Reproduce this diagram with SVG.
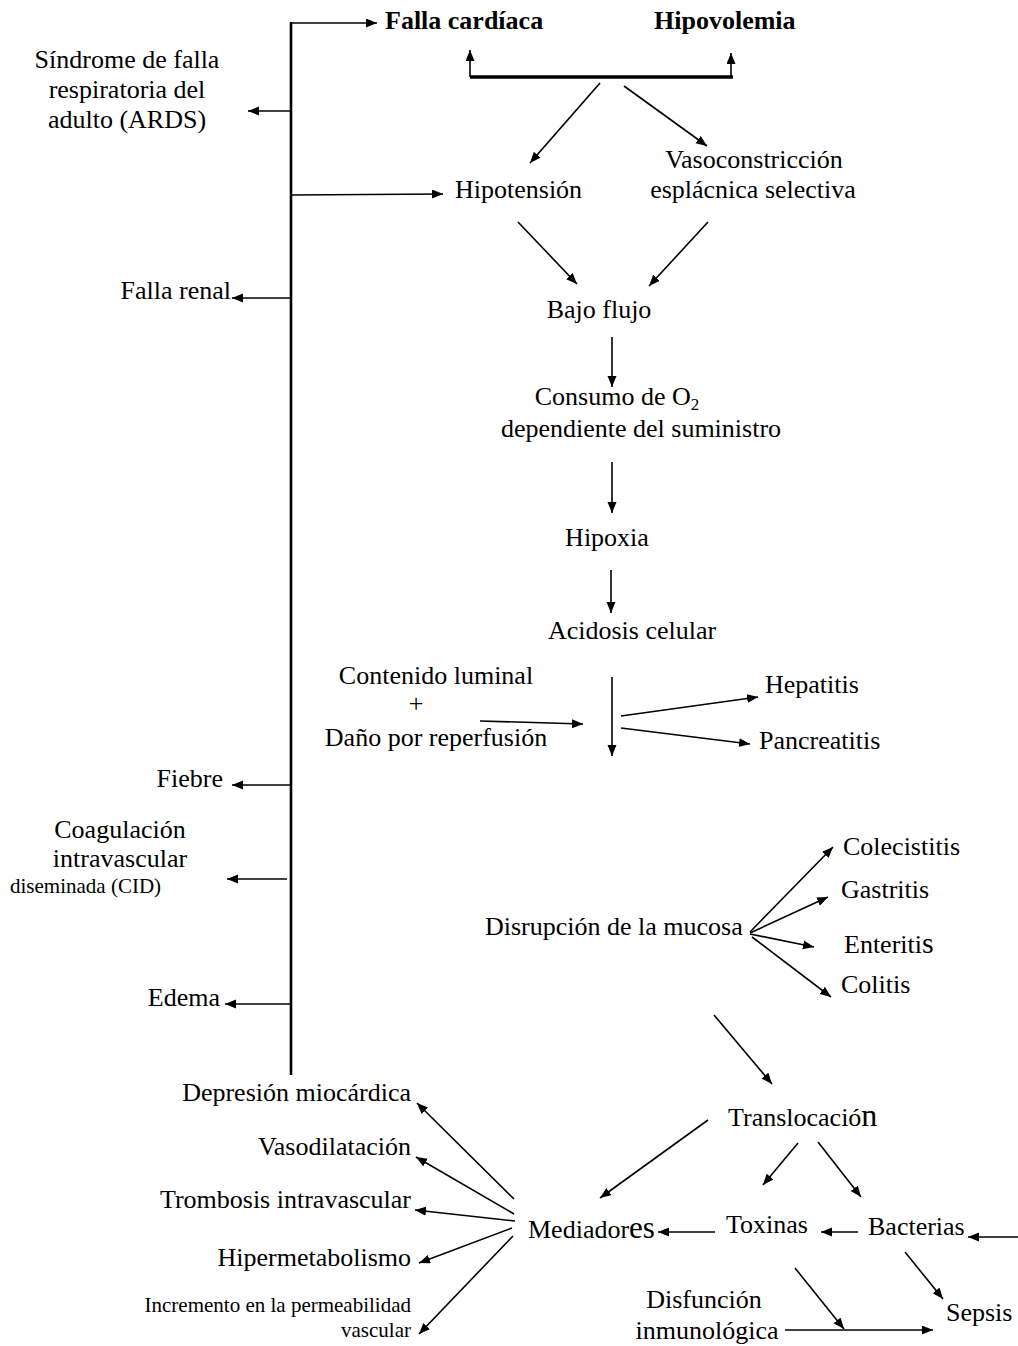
<svg xmlns="http://www.w3.org/2000/svg" width="1018" height="1346" viewBox="0 0 1018 1346">
<style>
text{font-family:"Liberation Serif","Times New Roman",serif;font-size:26px;fill:#000}
.b{font-weight:bold}
.s{font-size:21px}
.m{text-anchor:middle}
.e{text-anchor:end}
.c line,.c path{stroke:#000;stroke-width:1.6;fill:none}
.c .a{marker-end:url(#ah)}
.c .main{stroke-width:2.6}
.c .bar{stroke-width:3.6}
</style>
<defs>
<marker id="ah" markerUnits="userSpaceOnUse" markerWidth="12" markerHeight="10" refX="11" refY="4.5" orient="auto"><path d="M0,0 L11,4.5 L0,9 z" fill="#000"/></marker>
</defs>
<rect width="1018" height="1346" fill="#fff"/>
<g class="c" id="connectors">
<line class="main" x1="291" y1="22" x2="291" y2="1075"/>
<line class="a" x1="291" y1="23" x2="377" y2="23"/>
<line class="bar" x1="470" y1="77" x2="733" y2="77"/>
<line class="a" x1="470" y1="77" x2="470" y2="50"/>
<line class="a" x1="731" y1="77" x2="731" y2="53"/>
<line class="a" x1="600" y1="83" x2="530" y2="163"/>
<line class="a" x1="624" y1="86" x2="707" y2="146"/>
<line class="a" x1="291" y1="111" x2="248" y2="111"/>
<line class="a" x1="291" y1="195" x2="443" y2="194"/>
<line class="a" x1="518" y1="222" x2="577" y2="284"/>
<line class="a" x1="708" y1="222" x2="649" y2="286"/>
<line class="a" x1="291" y1="298" x2="232" y2="298"/>
<line class="a" x1="612" y1="337" x2="612" y2="387"/>
<line class="a" x1="612" y1="462" x2="612" y2="513"/>
<line class="a" x1="611" y1="570" x2="611" y2="613"/>
<line class="a" x1="480" y1="721" x2="583" y2="724"/>
<line class="a" x1="612" y1="677" x2="612" y2="756"/>
<line class="a" x1="621" y1="716" x2="758" y2="697"/>
<line class="a" x1="621" y1="728" x2="750" y2="744"/>
<line class="a" x1="291" y1="785" x2="232" y2="785"/>
<line class="a" x1="287" y1="879" x2="227" y2="879"/>
<line class="a" x1="291" y1="1004" x2="225" y2="1004"/>
<line class="a" x1="750" y1="932" x2="833" y2="847"/>
<line class="a" x1="750" y1="933" x2="828" y2="897"/>
<line class="a" x1="750" y1="934" x2="814" y2="947"/>
<line class="a" x1="752" y1="937" x2="831" y2="997"/>
<line class="a" x1="714" y1="1015" x2="772" y2="1084"/>
<line class="a" x1="708" y1="1120" x2="600" y2="1198"/>
<line class="a" x1="798" y1="1143" x2="763" y2="1185"/>
<line class="a" x1="818" y1="1142" x2="861" y2="1197"/>
<line class="a" x1="715" y1="1232" x2="658" y2="1232"/>
<line class="a" x1="858" y1="1232" x2="821" y2="1232"/>
<line class="a" x1="1018" y1="1237" x2="968" y2="1237"/>
<line class="a" x1="905" y1="1252" x2="943" y2="1299"/>
<line class="a" x1="795" y1="1268" x2="844" y2="1329"/>
<line class="a" x1="785" y1="1330" x2="933" y2="1330"/>
<line class="a" x1="514" y1="1199" x2="417" y2="1103"/>
<line class="a" x1="514" y1="1214" x2="416" y2="1157"/>
<line class="a" x1="515" y1="1221" x2="415" y2="1210"/>
<line class="a" x1="512" y1="1228" x2="419" y2="1263"/>
<line class="a" x1="513" y1="1236" x2="419" y2="1334"/>
</g>
<g id="falla-cardiaca"><text class="b" x="385" y="29">Falla cardíaca</text></g>
<g id="hipovolemia"><text class="b" x="654" y="29">Hipovolemia</text></g>
<g id="ards"><text class="m" x="127" y="68">Síndrome de falla</text><text class="m" x="127" y="98">respiratoria del</text><text class="m" x="127" y="128">adulto (ARDS)</text></g>
<g id="hipotension"><text x="455" y="198">Hipotensión</text></g>
<g id="vasoconstriccion"><text class="m" x="754" y="168">Vasoconstricción</text><text class="m" x="753" y="198">esplácnica selectiva</text></g>
<g id="falla-renal"><text class="e" x="231" y="299">Falla renal</text></g>
<g id="bajo-flujo"><text class="m" x="599" y="318">Bajo flujo</text></g>
<g id="consumo"><text class="m" x="617" y="405">Consumo de O<tspan font-size="17" dy="5">2</tspan></text><text class="m" x="641" y="437">dependiente del suministro</text></g>
<g id="hipoxia"><text class="m" x="607" y="546">Hipoxia</text></g>
<g id="acidosis"><text class="m" x="632" y="639">Acidosis celular</text></g>
<g id="contenido"><text class="m" x="436" y="684">Contenido luminal</text><text class="m" x="416" y="712">+</text><text class="m" x="436" y="746">Daño por reperfusión</text></g>
<g id="hepatitis"><text x="765" y="693">Hepatitis</text></g>
<g id="pancreatitis"><text x="759" y="749">Pancreatitis</text></g>
<g id="fiebre"><text class="e" x="223" y="787">Fiebre</text></g>
<g id="cid"><text class="m" x="120" y="838">Coagulación</text><text class="m" x="120" y="867">intravascular</text><text class="s" x="10" y="893">diseminada (CID)</text></g>
<g id="edema"><text class="e" x="220" y="1006">Edema</text></g>
<g id="disrupcion"><text x="485" y="935">Disrupción de la mucosa</text></g>
<g id="colecistitis"><text x="843" y="855">Colecistitis</text></g>
<g id="gastritis"><text x="841" y="898">Gastritis</text></g>
<g id="enteritis"><text x="844" y="953">Enteriti<tspan font-size="30">s</tspan></text></g>
<g id="colitis"><text x="841" y="993">Colitis</text></g>
<g id="translocacion"><text x="728" y="1126">Translocació<tspan font-size="32">n</tspan></text></g>
<g id="mediadores"><text x="528" y="1238">Mediador<tspan font-size="31">es</tspan></text></g>
<g id="toxinas"><text x="726" y="1233">Toxinas</text></g>
<g id="bacterias"><text x="868" y="1235">Bacterias</text></g>
<g id="sepsis"><text x="946" y="1321">Sepsis</text></g>
<g id="disfuncion"><text class="m" x="704" y="1308">Disfunción</text><text class="m" x="707" y="1339">inmunológica</text></g>
<g id="depresion"><text class="e" x="411" y="1101">Depresión miocárdica</text></g>
<g id="vasodilatacion"><text class="e" x="411" y="1155">Vasodilatación</text></g>
<g id="trombosis"><text class="e" x="411" y="1208">Trombosis intravascular</text></g>
<g id="hipermetabolismo"><text class="e" x="411" y="1266">Hipermetabolismo</text></g>
<g id="permeabilidad"><text class="s e" x="411" y="1312">Incremento en la permeabilidad</text><text class="s e" x="411" y="1337">vascular</text></g>
</svg>
